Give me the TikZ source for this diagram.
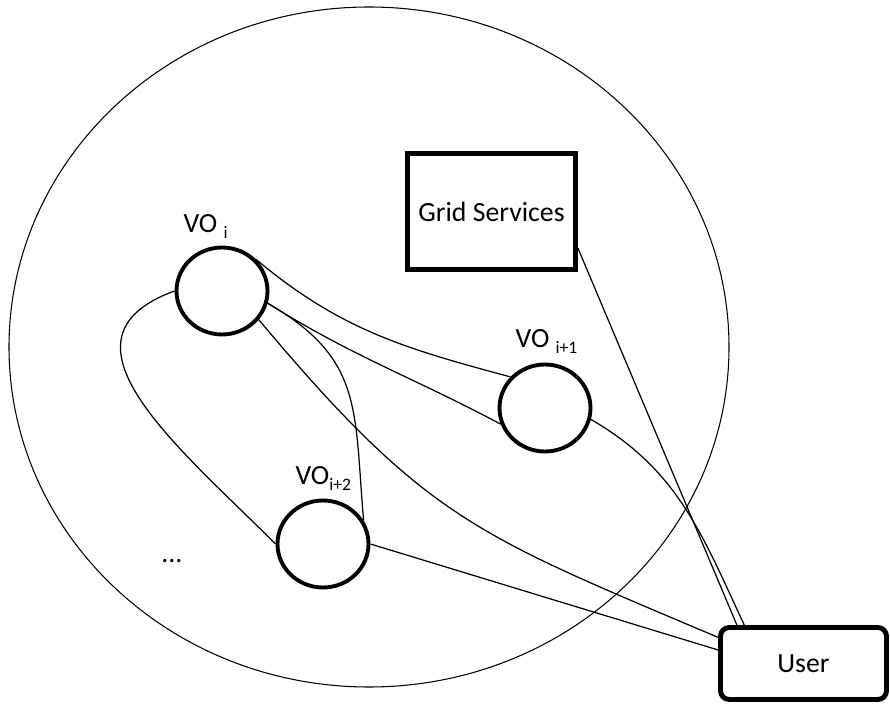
\documentclass[tikz,border=0pt]{standalone}
\usepackage{fontspec}
\setmainfont{Carlito}
\usetikzlibrary{shapes.geometric}

\newcommand{\vosub}[1]{\raisebox{-3pt}{\fontsize{10}{12}\selectfont #1}}

\begin{document}
\begin{tikzpicture}[font=\fontsize{15.8}{19}\selectfont, line width=0.7pt]

\useasboundingbox (0,0) rectangle (17.8,14.08);

% the grid
\node[ellipse, draw, line width=0.6pt, minimum width=14.4cm, minimum height=13.6cm] (env) at (7.38,7.14) {};

\begin{scope}[ vo/.style = {ellipse, draw, line width=2.2pt, minimum width=1.82cm, minimum height=1.74cm, inner sep=0pt},
               lbl/.style = {anchor=base west, inner sep=0pt}]
    \node[vo] (voi) at (4.44, 8.26) {};
    \node[vo] (voii) at (10.90, 5.92) {};
    \node[vo] (voiii) at (6.46, 3.20) {};

    \node[lbl] (lvoi) at (3.66, 9.42) {VO \vosub{i}};
    \node[lbl] (lvoii) at (10.30, 7.12) {VO \vosub{i+1}};
    \node[lbl] (lvoiii) at (5.90, 4.38) {VO\vosub{i+2}};
    \node (dots) at (3.44, 2.86) {...};

    \node[rectangle, draw, line width=2.8pt, minimum width=3.36cm, minimum height=2.32cm] (grid) at (9.83, 9.85) {Grid Services};
    \node[rectangle, draw, line width=2.8pt, rounded corners=5pt, minimum width=3.32cm, minimum height=1.44cm] (user) at (16.07, 0.81) {User};
\end{scope}

\begin{scope}
    \draw (voi.43) to [out=-40, in=165] (voii.138);
    \draw (voi.-15) to [out=-32, in=152] (voii.200);
    \draw (voi.-38) to [out=-50, in=157, looseness=1.2] (user.163);
    \draw (voi.-15) to [out=-30, in=95, looseness=1.2] (voiii.30);
    \draw (voi.180) to [out=200, in=135, looseness=1.3] (voiii.180);

    \draw (voii.-14) to [out=-30, in=115] (user.147);
    \draw (grid.-23) -- (user.150);
    \draw (voiii.east) -- (user.171);
\end{scope}

\end{tikzpicture}
\end{document}
